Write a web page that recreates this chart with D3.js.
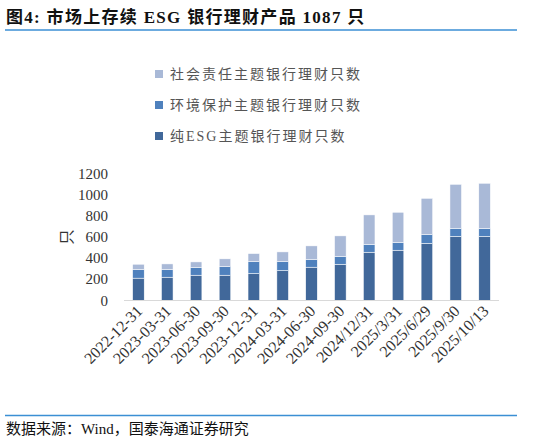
<!DOCTYPE html><html><head><meta charset="utf-8">
<script src="https://cdn.jsdelivr.net/npm/d3@7"></script>
<style>body{margin:0;background:#fff}</style></head><body><svg id="c" width="538" height="442"></svg>
<script>
const categories=["2022-12-31","2023-03-31","2023-06-30","2023-09-30","2023-12-31","2024-03-31","2024-06-30","2024-09-30","2024/12/31","2025/3/31","2025/6/29","2025/9/30","2025/10/13"];
const pureESG=[212,221,240,240,256,284,316,344,458,477,543,609,609];
const environment=[82,73,73,82,113,85,72,73,73,72,82,76,73];
const social=[50,53,53,73,76,92,130,196,281,288,344,417,430];
const yTicks=[0,200,400,600,800,1000,1200];
const seriesNames=["纯ESG主题银行理财只数","环境保护主题银行理财只数","社会责任主题银行理财只数"];
const colors=["#41689a","#4f81bd","#a9b9d7"];
const svg=d3.select("#c");
const serif="'Liberation Serif','Noto Sans CJK SC',serif";
svg.append("text").attr("x",6).attr("y",23).attr("font-size",17).attr("font-weight","bold").attr("font-family",serif).attr("fill","#111").attr("letter-spacing",1.3).text("图4:  市场上存续 ESG 银行理财产品 1087 只");
svg.append("line").attr("x1",5).attr("x2",517).attr("y1",30).attr("y2",30).attr("stroke","#3b8fd4").attr("stroke-width",1.5);
const x=d3.scaleBand().domain(categories).range([124,499]).paddingInner(0.6).paddingOuter(0.3);
const y=d3.scaleLinear().domain([0,1200]).range([300.5,174]);
const data=categories.map((c,i)=>({c,a:pureESG[i],b:environment[i],s:social[i]}));
const stack=d3.stack().keys(["a","b","s"])(data);
stack.forEach((layer,k)=>{
  svg.append("g").selectAll("rect").data(layer).join("rect")
   .attr("x",d=>x(d.data.c)).attr("width",x.bandwidth())
   .attr("y",d=>y(d[1])).attr("height",d=>y(d[0])-y(d[1]))
   .attr("fill",colors[k]).attr("stroke","#fff").attr("stroke-width",0.5);
});
svg.append("line").attr("x1",124).attr("x2",499).attr("y1",300.5).attr("y2",300.5).attr("stroke","#d9d9d9");
svg.append("g").selectAll("text").data(yTicks).join("text").attr("x",108).attr("y",d=>y(d)+5).attr("text-anchor","end")
  .attr("font-size",15).attr("font-family",serif).attr("fill","#333").text(d=>d);
svg.append("text").attr("transform","translate(72,237) rotate(-90)").attr("text-anchor","middle").attr("font-size",15).attr("font-family",serif).attr("fill","#333").text("只");
svg.append("g").selectAll("text").data(categories).join("text")
  .attr("transform",d=>`translate(${x(d)+x.bandwidth()/2+5},${312}) rotate(-45)`).attr("text-anchor","end")
  .attr("font-size",16).attr("font-family",serif).attr("fill","#333").text(d=>d);
const leg=[2,1,0];
leg.forEach((k,i)=>{
  const yy=75+i*31;
  svg.append("rect").attr("x",155).attr("y",yy-5).attr("width",8).attr("height",8).attr("fill",colors[k]);
  svg.append("text").attr("x",170).attr("y",yy+4).attr("font-size",14).attr("font-family",serif).attr("fill","#555").attr("letter-spacing",2).text(seriesNames[k]);
});
svg.append("line").attr("x1",5).attr("x2",517).attr("y1",415.5).attr("y2",415.5).attr("stroke","#3b8fd4").attr("stroke-width",1.5);
svg.append("text").attr("x",6).attr("y",434).attr("font-size",15).attr("font-family",serif).attr("fill","#111").text("数据来源：Wind，国泰海通证券研究");
</script></body></html>
